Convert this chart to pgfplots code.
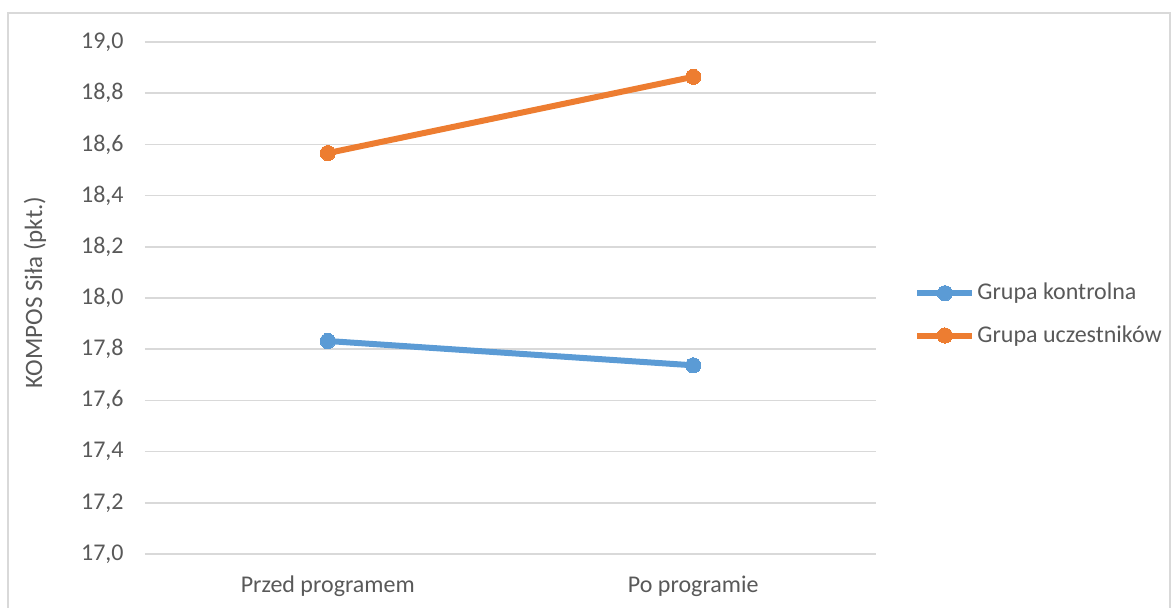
\documentclass[border=0pt]{standalone}
\usepackage{pgfplots}
\pgfplotsset{compat=1.18}
\usepackage{fontspec}
\setmainfont{Carlito}
\definecolor{cblue}{HTML}{5B9BD5}
\definecolor{corange}{HTML}{ED7D31}
\definecolor{cgrid}{HTML}{D9D9D9}
\definecolor{ctext}{HTML}{595959}
\definecolor{cframe}{HTML}{D9D9D9}
\begin{document}
\fontsize{12}{14}\selectfont
\begin{tikzpicture}
\useasboundingbox (-72.5pt,-27pt) rectangle (514pt,277pt);
\draw[cframe, line width=0.75pt] (-68.5pt,-40pt) -- (-68.5pt,270.5pt) -- (512.5pt,270.5pt) -- (512.5pt,-40pt);
\begin{axis}[
  at={(0pt,0pt)}, anchor=south west,
  scale only axis, width=365.5pt, height=256pt,
  xmin=0, xmax=2, ymin=17, ymax=19,
  xtick={0.5,1.5}, xticklabels={Przed programem, Po programie},
  ytick={17,17.2,17.4,17.6,17.8,18,18.2,18.4,18.6,18.8,19},
  major tick length=0pt,
  axis line style={draw=none},
  ymajorgrids, grid style={cgrid, line width=0.75pt},
  /pgf/number format/assume math mode=true,
  /pgf/number format/.cd, use comma, fixed, fixed zerofill, precision=1, /pgfplots/.cd,
  yticklabel style={text=ctext, inner sep=0pt, anchor=east, xshift=-10.5pt},
  xticklabel style={text=ctext, inner sep=0pt, anchor=center, yshift=-16pt},
  ylabel={KOMPOS Siła (pkt.)},
  every axis y label/.style={at={(axis description cs:-0.1505,0.511)}, rotate=90, anchor=center, text=ctext, font=\fontsize{12.5}{15}\selectfont},
  clip=false,
  legend style={draw=none, fill=none, at={(1.052,0.468)}, anchor=west, inner sep=0pt,
    row sep=9pt, text=ctext, nodes={inner sep=1pt}},
  legend cell align=left,
  legend image code/.code={
    \draw[mark repeat=2, mark phase=2, #1] plot coordinates {(0pt,0pt) (13.75pt,0pt) (27.5pt,0pt)};
  },
]
\addplot[cblue, line width=3pt, mark=*, mark size=3.8pt, mark options={line width=0pt}] coordinates {(0.5,17.832) (1.5,17.737)};
\addlegendentry{Grupa kontrolna}
\addplot[corange, line width=3pt, mark=*, mark size=3.8pt, mark options={line width=0pt}] coordinates {(0.5,18.566) (1.5,18.864)};
\addlegendentry{Grupa uczestników}
\end{axis}
\end{tikzpicture}
\end{document}
